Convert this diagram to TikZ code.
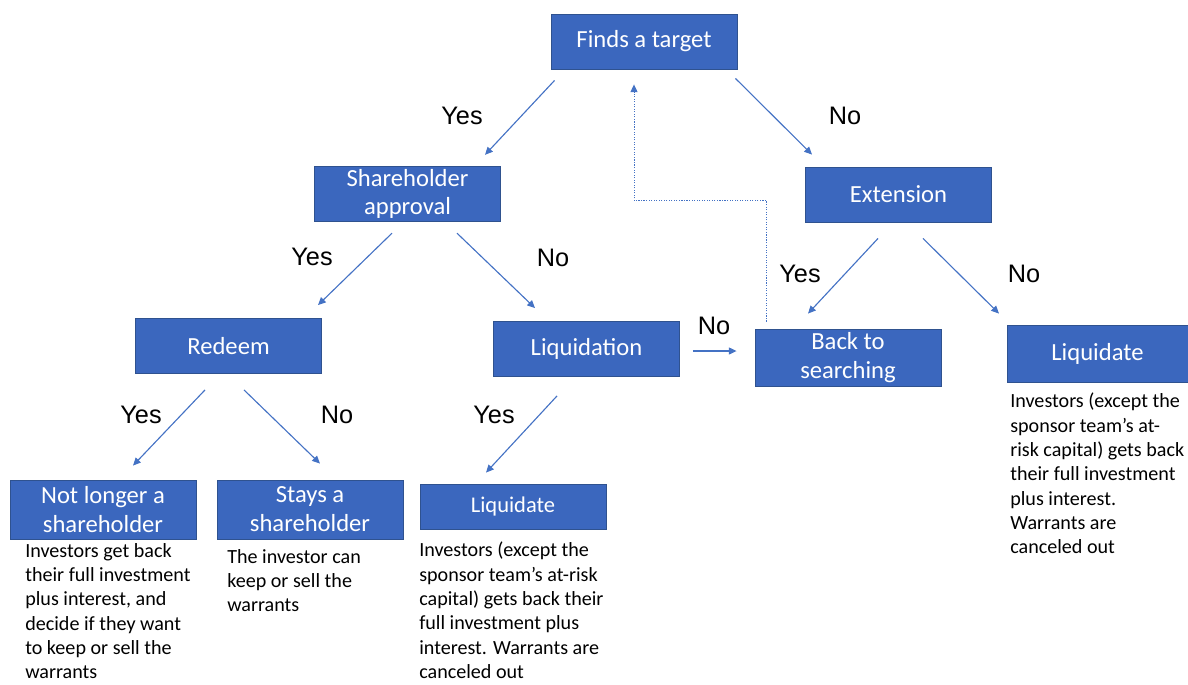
\documentclass[tikz,border=0pt]{standalone}
\usepackage{fontspec}
\setmainfont{Carlito}
\newfontfamily\labelfont{Liberation Sans}
\usetikzlibrary{arrows.meta, calc, positioning}
\definecolor{boxblue}{RGB}{59, 103, 190}
\definecolor{boxedge}{RGB}{47, 82, 143}
\definecolor{arrowblue}{RGB}{68, 114, 196}
\tikzset{
    stepbox/.style={draw=boxedge, line width=0.6pt, fill=boxblue, rectangle, minimum width=4.65cm, minimum height=1.375cm, inner sep=2pt, align=center, text=white, font=\fontsize{17.5}{20.5}\selectfont},
    flowarrow/.style={-{Triangle[length=5.5pt, width=5pt]}, line width=0.8pt, draw=arrowblue},
    loopback/.style={flowarrow, densely dotted, line width=0.7pt},
    answer/.style={font=\labelfont\fontsize{18}{20}\selectfont, inner sep=0pt},
    outcome/.style={anchor=north west, align=left, inner sep=0pt, font=\fontsize{14.3}{17.3}\selectfont},
}
\begin{document}
\begin{tikzpicture}[x=0.025cm, y=-0.025cm]
    \useasboundingbox (0,0) rectangle (1188,684);

    % Top decision
    \node[stepbox] (finds) at (644, 41.5) {Finds a target};

    % Second level
    \node[stepbox] (approval) at (407.5, 194) {Shareholder\\approval};
    \node[stepbox] (extension) at (898.5, 194.5) {Extension};

    % Third level
    \node[stepbox] (redeem) at (228.5, 346) {Redeem};
    \node[stepbox] (liquidation) at (586.5, 349) {Liquidation};
    \node[stepbox, minimum height=1.425cm] (backsearch) at (848, 357.5) {Back to\\searching};
    \node[stepbox, minimum width=4.525cm, minimum height=1.425cm] (liqright) at (1097.5, 353.5) {Liquidate};

    % Outcomes
    \node[stepbox, minimum height=1.475cm] (notlonger) at (103, 509.5) {Not longer a\\shareholder};
    \node[stepbox, minimum height=1.475cm] (stays) at (310, 509.5) {Stays a\\shareholder};
    \node[stepbox, minimum height=1.125cm, font=\fontsize{16}{19}\selectfont] (liqmid) at (513, 506.5) {Liquidate};

    % Outcome descriptions
    \node[outcome] (notlongertxt) at (25, 543) {Investors get back\\their full investment\\plus interest, and\\decide if they want\\to keep or sell the\\warrants};
    \node[outcome] (staystxt) at (227, 549) {The investor can\\keep or sell the\\warrants};
    \node[outcome] (liqmidtxt) at (419, 542) {Investors (except the\\sponsor team’s at-risk\\capital) gets back their\\full investment plus\\interest. Warrants are\\canceled out};
    \node[outcome] (liqrighttxt) at (1010, 393) {Investors (except the\\sponsor team’s at-\\risk capital) gets back\\their full investment\\plus interest.\\Warrants are\\canceled out};

    % Arrows
    \draw[flowarrow] ($(finds.south west)+(4,11)$) -- ($(approval.north)+(77.5,-11)$);
    \draw[flowarrow] ($(finds.south east)+(-2,9)$) -- ($(extension.north)+(-86.5,-12)$);
    \draw[flowarrow] ($(approval.south)+(-15.5,11)$) -- ($(redeem.north)+(89.5,-13)$);
    \draw[flowarrow] ($(approval.south)+(49.5,11)$) -- ($(liquidation.north)+(-51.5,-13)$);
    \draw[flowarrow] ($(extension.south)+(-20.5,16)$) -- ($(backsearch.north)+(-40,-15)$);
    \draw[flowarrow] ($(extension.south)+(24.5,16)$) -- ($(liqright.north)+(-98.5,-11)$);
    \draw[flowarrow] ($(redeem.south)+(-23.5,16)$) -- ($(notlonger.north)+(30,-14)$);
    \draw[flowarrow] ($(redeem.south)+(15.5,16)$) -- ($(stays.north)+(10,-16)$);
    \draw[flowarrow] ($(liquidation.south)+(-29.5,19)$) -- ($(liqmid.north)+(-27,-11)$);
    \draw[flowarrow] ($(liquidation.east)+(13,2)$) -- ($(backsearch.west)+(-18,-6.5)$);
    \draw[loopback] ($(backsearch.north west)+(12,-7)$) -- ++(0,-121) -| ($(finds.south)+(-10,15)$);

    % Answers
    \node[answer] (yes1) at (462, 116) {Yes};
    \node[answer] (no1) at (845, 116) {No};
    \node[answer] (yes2) at (312, 257) {Yes};
    \node[answer] (no2) at (553, 258) {No};
    \node[answer] (yes3) at (800, 274) {Yes};
    \node[answer] (no3) at (1024, 274) {No};
    \node[answer] (yes4) at (141, 415) {Yes};
    \node[answer] (no4) at (337, 415) {No};
    \node[answer] (yes5) at (494, 415) {Yes};
    \node[answer] (no5) at (714, 326) {No};
\end{tikzpicture}
\end{document}
